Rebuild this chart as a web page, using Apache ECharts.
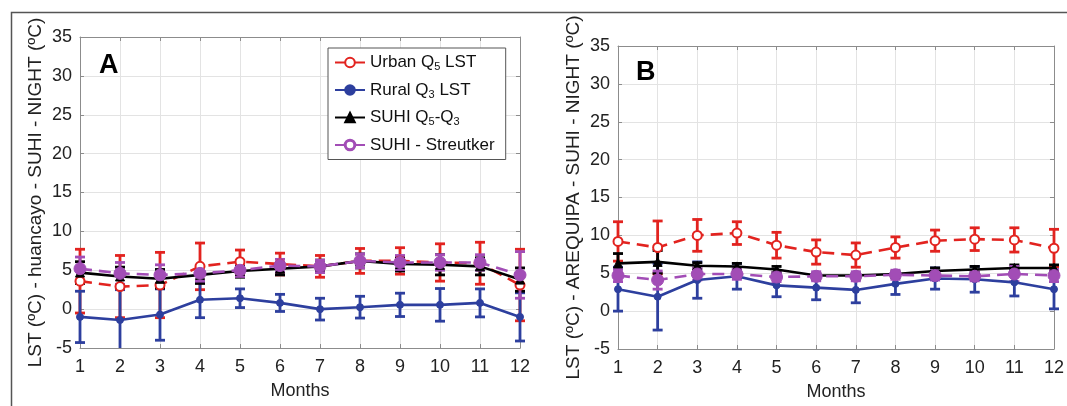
<!DOCTYPE html>
<html>
<head>
<meta charset="utf-8">
<script src="https://cdn.jsdelivr.net/npm/echarts@6/dist/echarts.min.js"></script>
<style>
  html, body { margin: 0; padding: 0; background: #fff; }
  #chart { width: 1067px; height: 406px; }
</style>
</head>
<body>
<div id="chart"></div>
<script>
// months on the x axis
var months = [1, 2, 3, 4, 5, 6, 7, 8, 9, 10, 11, 12];
var yTicks = [-5, 0, 5, 10, 15, 20, 25, 30, 35];

// panel A - huancayo
var aUrban      = [3.6, 2.9, 3.1, 5.5, 6.1, 5.8, 5.5, 6.2, 6.2, 6.0, 5.9, 3.1];
var aUrbanErr   = [4.1, 4.0, 4.2, 3.0, 1.5, 1.4, 1.4, 1.6, 1.7, 2.4, 2.7, 4.6];
var aRural      = [-1.0, -1.4, -0.7, 1.2, 1.4, 0.8, 0.0, 0.25, 0.55, 0.55, 0.8, -1.0];
var aRuralErr   = [3.3, 3.9, 3.3, 2.3, 1.2, 1.1, 1.4, 1.4, 1.5, 2.1, 1.8, 3.1];
var aSuhi       = [4.7, 4.2, 3.9, 4.4, 4.9, 5.2, 5.5, 6.2, 5.8, 5.7, 5.5, 3.8];
var aSuhiErr    = [1.4, 1.2, 1.2, 1.1, 0.8, 0.8, 0.8, 0.9, 0.9, 1.3, 1.1, 1.5];
var aStreut     = [5.2, 4.6, 4.4, 4.6, 5.0, 5.6, 5.5, 6.2, 6.0, 6.0, 6.0, 4.4];
var aStreutErr  = [1.5, 1.4, 1.3, 1.0, 0.8, 0.8, 0.8, 0.9, 0.9, 1.0, 1.0, 3.0];

// panel B - AREQUIPA
var bUrban      = [9.2, 8.4, 10.0, 10.3, 8.7, 7.8, 7.4, 8.4, 9.3, 9.5, 9.4, 8.3];
var bUrbanErr   = [2.6, 3.5, 2.1, 1.5, 1.7, 1.6, 1.6, 1.4, 1.4, 1.5, 1.6, 2.5];
var bRural      = [2.9, 1.9, 4.1, 4.6, 3.4, 3.1, 2.8, 3.6, 4.3, 4.2, 3.8, 2.9];
var bRuralErr   = [2.9, 4.4, 2.4, 1.7, 1.5, 1.6, 1.7, 1.4, 1.4, 1.7, 1.8, 2.6];
var bSuhi       = [6.3, 6.5, 6.0, 5.9, 5.5, 4.7, 4.7, 4.9, 5.3, 5.5, 5.7, 5.7];
var bSuhiErr    = [1.3, 1.5, 0.4, 0.4, 0.4, 0.3, 0.3, 0.3, 0.4, 0.4, 0.4, 0.4];
var bStreut     = [4.7, 4.1, 4.9, 4.9, 4.5, 4.6, 4.6, 4.8, 4.7, 4.6, 4.9, 4.7];
var bStreutErr  = [0.8, 1.2, 0.8, 0.7, 0.6, 0.6, 0.6, 0.6, 0.6, 0.6, 1.0, 0.8];

var names = ['Urban Q5 LST', 'Rural Q3 LST', 'SUHI Q5-Q3', 'SUHI - Streutker'];
var RED = '#e2231f', BLUE = '#2d3f9e', BLACK = '#000000', PURPLE = '#a24db6';
var FONT = 'Liberation Sans, Arial, sans-serif';

var chart = echarts.init(document.getElementById('chart'));

function pairs(vals) {
  return months.map(function (m, i) { return [m, vals[i]]; });
}
function triples(vals, errs) {
  return months.map(function (m, i) { return [m, vals[i], errs[i]]; });
}

function errBar(color) {
  return function (params, api) {
    var cs = params.coordSys;
    var x = api.value(0), y = api.value(1), e = api.value(2);
    var p1 = api.coord([x, y + e]), p2 = api.coord([x, y - e]);
    var yTop = Math.max(p1[1], cs.y), yBot = Math.min(p2[1], cs.y + cs.height);
    var px = p1[0], w = 5;
    var style = { stroke: color, lineWidth: 2.8 };
    var kids = [{ type: 'line', shape: { x1: px, y1: yTop, x2: px, y2: yBot }, style: style }];
    if (p1[1] >= cs.y) kids.push({ type: 'line', shape: { x1: px - w, y1: yTop, x2: px + w, y2: yTop }, style: style });
    if (p2[1] <= cs.y + cs.height) kids.push({ type: 'line', shape: { x1: px - w, y1: yBot, x2: px + w, y2: yBot }, style: style });
    return { type: 'group', children: kids };
  };
}

function panelSeries(idx, urban, urbanErr, rural, ruralErr, suhi, suhiErr, streut, streutErr) {
  var defs = [
    [names[0], urban, urbanErr, RED, 'dashed', 'emptyCircle', 9],
    [names[1], rural, ruralErr, BLUE, 'solid', 'circle', 7],
    [names[2], suhi, suhiErr, BLACK, 'solid', 'triangle', 9],
    [names[3], streut, streutErr, PURPLE, 'dashed', 'circle', 12]
  ];
  var out = [];
  defs.forEach(function (d) {
    out.push({
      name: d[0] + ' err',
      type: 'custom',
      xAxisIndex: idx,
      yAxisIndex: idx,
      renderItem: errBar(d[3]),
      encode: { x: 0, y: 1 },
      data: triples(d[1], d[2]),
      silent: true
    });
    out.push({
      name: d[0],
      type: 'line',
      xAxisIndex: idx,
      yAxisIndex: idx,
      data: pairs(d[1]),
      symbol: d[5],
      symbolSize: d[6],
      lineStyle: { color: d[3], width: 2.6, type: d[4] === 'dashed' ? [12, 7] : 'solid' },
      itemStyle: { color: d[3], borderColor: d[3], borderWidth: d[5] === 'emptyCircle' ? 3 : 1 },
      emphasis: { disabled: true },
      animation: false
    });
  });
  return out;
}

function xAx(grid, name, top) {
  return {
    type: 'value', gridIndex: grid, min: 1, max: 12, interval: 1,
    position: top ? 'top' : 'bottom',
    name: top ? '' : name, nameLocation: 'middle', nameGap: 34,
    nameTextStyle: { fontSize: 18, color: '#222', fontFamily: FONT },
    axisLine: { show: true, onZero: false, lineStyle: { color: '#8c8c8c', width: 1 } },
    axisTick: { show: true, inside: true, length: 4, lineStyle: { color: '#8c8c8c' } },
    axisLabel: { show: !top, fontSize: 18, color: '#222', fontFamily: FONT, margin: 10 },
    splitLine: { show: !top, lineStyle: { color: '#e3e3e3', width: 1 } }
  };
}
function yAx(grid, name, right) {
  return {
    type: 'value', gridIndex: grid, min: yTicks[0], max: yTicks[yTicks.length - 1], interval: 5,
    position: right ? 'right' : 'left',
    name: right ? '' : name, nameLocation: 'middle', nameGap: 35,
    nameTextStyle: { fontSize: 19, color: '#222', fontFamily: FONT },
    axisLine: { show: true, onZero: false, lineStyle: { color: '#8c8c8c', width: 1 } },
    axisTick: { show: true, inside: true, length: 4, lineStyle: { color: '#8c8c8c' } },
    axisLabel: { show: !right, fontSize: 18, color: '#222', fontFamily: FONT, margin: 8 },
    splitLine: { show: !right, lineStyle: { color: '#e3e3e3', width: 1 } }
  };
}

var legendRich = {
  n: { fontSize: 17, color: '#111', fontFamily: FONT },
  s: { fontSize: 11, color: '#111', fontFamily: FONT, padding: [9, 0, 0, 0] }
};

var option = {
  backgroundColor: '#fff',
  animation: false,
  grid: [
    { left: 80, top: 37, width: 440, height: 311 },
    { left: 618, top: 46, width: 439, height: 304 }
  ],
  xAxis: [
    xAx(0, 'Months', false), xAx(1, 'Months', false),
    xAx(0, '', true), xAx(1, '', true)
  ],
  yAxis: [
    yAx(0, 'LST (ºC) - huancayo - SUHI - NIGHT (ºC)', false),
    yAx(1, 'LST (ºC) - AREQUIPA - SUHI - NIGHT (ºC)', false),
    yAx(0, '', true), yAx(1, '', true)
  ],
  legend: {
    data: [
      names[0], names[1], names[2],
      { name: names[3], itemStyle: { color: '#fff', borderColor: PURPLE, borderWidth: 3 } }
    ],
    orient: 'vertical',
    left: 328,
    top: 48,
    itemWidth: 30,
    itemHeight: 12,
    itemGap: 9,
    padding: [6, 11, 6, 6],
    backgroundColor: '#fff',
    borderColor: '#555',
    borderWidth: 1,
    selectedMode: false,
    textStyle: { rich: legendRich },
    formatter: function (n) {
      if (n === 'Urban Q5 LST') return '{n|Urban Q}{s|5}{n| LST}';
      if (n === 'Rural Q3 LST') return '{n|Rural Q}{s|3}{n| LST}';
      if (n === 'SUHI Q5-Q3') return '{n|SUHI Q}{s|5}{n|-Q}{s|3}';
      return '{n|' + n + '}';
    }
  },
  graphic: [
    { type: 'rect', left: 9, top: 10, shape: { width: 1100, height: 500 },
      style: { fill: 'none', stroke: '#555', lineWidth: 1.5 }, silent: true },
    { type: 'text', left: 99, top: 52, style: { text: 'A', font: 'bold 27px ' + FONT, fill: '#000' } },
    { type: 'text', left: 636, top: 59, style: { text: 'B', font: 'bold 27px ' + FONT, fill: '#000' } }
  ],
  series: [].concat(
    panelSeries(0, aUrban, aUrbanErr, aRural, aRuralErr, aSuhi, aSuhiErr, aStreut, aStreutErr),
    panelSeries(1, bUrban, bUrbanErr, bRural, bRuralErr, bSuhi, bSuhiErr, bStreut, bStreutErr)
  )
};

chart.setOption(option);
</script>
</body>
</html>
